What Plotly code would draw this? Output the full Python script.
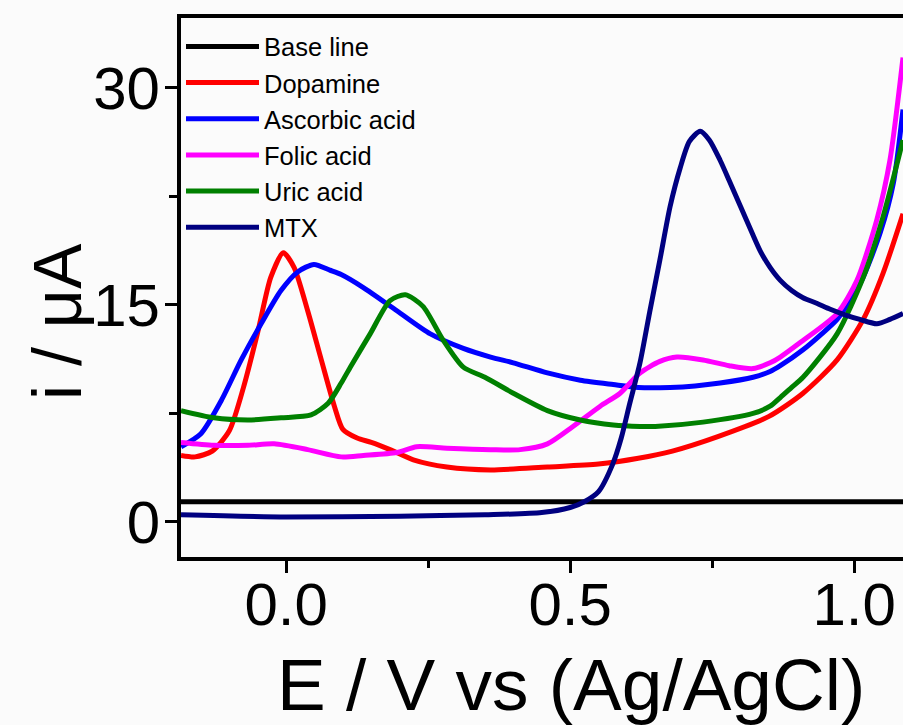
import plotly.graph_objects as go

# ---- data ----
base_E = [-0.185, 1.086]
base_i = [1.4, 1.4]

dopa_E = [-0.185, -0.16, -0.13, -0.10, -0.075, -0.05, -0.027, -0.005, 0.014, 0.038, 0.062, 0.085, 0.10,
          0.125, 0.15, 0.183, 0.224, 0.283, 0.36, 0.46, 0.55, 0.62, 0.68, 0.76, 0.85, 0.91, 0.97, 1.016,
          1.051, 1.086]
dopa_i = [4.6, 4.5, 4.9, 6.3, 9.3, 13.1, 16.9, 18.6, 17.6, 14.6, 11.2, 8.0, 6.4,
          5.8, 5.5, 5.0, 4.3, 3.8, 3.6, 3.8, 4.0, 4.4, 4.9, 5.9, 7.3, 8.9, 11.2, 14.0,
          17.2, 21.3]

asc_E = [-0.185, -0.15, -0.114, -0.079, -0.044, -0.009, 0.021, 0.049, 0.077, 0.097, 0.136, 0.195, 0.254,
         0.312, 0.36, 0.40, 0.46, 0.518, 0.576, 0.62, 0.676, 0.72, 0.764, 0.822, 0.852, 0.87, 0.91, 0.94,
         0.97, 1.011, 1.046, 1.069, 1.086]
asc_i = [5.2, 6.1, 8.4, 11.2, 13.7, 16.0, 17.3, 17.8, 17.4, 17.1, 16.2, 14.6, 13.0,
         12.0, 11.4, 11.0, 10.3, 9.8, 9.5, 9.3, 9.3, 9.4, 9.6, 10.0, 10.4, 10.8, 11.9, 12.9,
         14.0, 16.5, 20.0, 23.4, 28.5]

fol_E = [-0.185, -0.127, -0.067, -0.021, 0.038, 0.097, 0.136, 0.195, 0.23, 0.283, 0.36, 0.412, 0.46,
         0.505, 0.553, 0.588, 0.623, 0.658, 0.688, 0.734, 0.78, 0.822, 0.852, 0.87, 0.905, 0.97, 1.005,
         1.04, 1.063, 1.086]
fol_i = [5.5, 5.3, 5.3, 5.4, 5.0, 4.5, 4.6, 4.8, 5.2, 5.1, 5.0, 5.0, 5.4,
         6.6, 8.0, 8.9, 10.3, 11.1, 11.4, 11.2, 10.8, 10.6, 11.0, 11.4, 12.4, 14.4, 16.7,
         20.9, 25.0, 32.1]

uric_E = [-0.185, -0.127, -0.067, -0.009, 0.044, 0.074, 0.097, 0.113, 0.148, 0.183, 0.21, 0.241, 0.276,
          0.312, 0.35, 0.40, 0.46, 0.518, 0.576, 0.623, 0.65, 0.734, 0.822, 0.852, 0.87, 0.89, 0.91,
          0.97, 1.016, 1.051, 1.086]
uric_i = [7.7, 7.2, 7.05, 7.2, 7.4, 8.2, 9.6, 10.7, 13.0, 15.3, 15.7, 14.9, 12.6,
          10.7, 10.0, 8.9, 7.7, 7.05, 6.7, 6.6, 6.6, 6.9, 7.5, 8.0, 8.6, 9.3, 10.0,
          13.0, 16.9, 21.1, 26.4]

mtx_E = [-0.185, 0.0, 0.2, 0.35, 0.45, 0.5, 0.525, 0.55, 0.575, 0.59, 0.605, 0.623, 0.64, 0.658,
         0.676, 0.694, 0.71, 0.729, 0.745, 0.764, 0.78, 0.80, 0.82, 0.835, 0.852, 0.87, 0.89, 0.91,
         0.935, 0.958, 0.985, 1.01, 1.04, 1.063, 1.086]
mtx_i = [0.5, 0.35, 0.4, 0.5, 0.65, 1.0, 1.4, 2.1, 4.0, 5.8, 8.2, 11.0, 14.5, 18.1,
         21.8, 24.5, 26.3, 27.0, 26.4, 25.0, 23.6, 21.8, 20.0, 18.7, 17.6, 16.7, 16.0, 15.5,
         15.1, 14.7, 14.3, 14.0, 13.7, 14.0, 14.4]

series = [
    ("Base line", base_E, base_i, "#000000"),
    ("Dopamine", dopa_E, dopa_i, "#ff0000"),
    ("Ascorbic acid", asc_E, asc_i, "#0000ff"),
    ("Folic acid", fol_E, fol_i, "#ff00ff"),
    ("Uric acid", uric_E, uric_i, "#008000"),
    ("MTX", mtx_E, mtx_i, "#000080"),
]

FONT = "Arial, 'Liberation Sans', Helvetica, sans-serif"

fig = go.Figure()
for name, xs, ys, col in series:
    fig.add_trace(go.Scatter(x=xs, y=ys, name=name, mode="lines",
                             line=dict(color=col, width=5, shape="spline", smoothing=0.7)))

axis_common = dict(
    showgrid=False, zeroline=False, showline=True, linecolor="black", linewidth=4,
    ticks="outside", ticklen=12, tickwidth=3, tickcolor="black",
    tickfont=dict(family=FONT, size=60, color="black"),
)

fig.update_xaxes(range=[-0.185, 1.086], tick0=0, dtick=0.5, tickformat=".1f", mirror=True,
                 ticklabelstandoff=-20,
                 minor=dict(ticks="outside", dtick=0.25, tick0=0, ticklen=7, tickwidth=3, tickcolor="black"),
                 **axis_common)
fig.update_yaxes(range=[-2.42, 34.83], tick0=0, dtick=15, mirror=False,
                 ticklabelstandoff=-7,
                 minor=dict(ticks="outside", dtick=7.5, tick0=0, ticklen=8, tickwidth=3, tickcolor="black"),
                 **axis_common)

fig.update_layout(
    width=903, height=725,
    margin=dict(l=181, r=0, t=18, b=168),
    paper_bgcolor="#fbfbfb", plot_bgcolor="#fbfbfb",
    showlegend=True,
    legend=dict(x=0.0, y=0.99, xanchor="left", yanchor="top", bgcolor="rgba(0,0,0,0)",
                font=dict(family=FONT, size=25.5, color="black"), itemwidth=73, tracegroupgap=0),
    annotations=[
        dict(text="E / V vs (Ag/AgCl)", xref="paper", yref="paper", x=0.540, y=-0.236,
             xanchor="center", yanchor="middle", showarrow=False,
             font=dict(family=FONT, size=73, color="black")),
        dict(text="i / μA", xref="paper", yref="paper", x=-0.1717, y=0.436, textangle=-90,
             xanchor="center", yanchor="middle", showarrow=False,
             font=dict(family=FONT, size=68, color="black")),
    ],
)

fig.write_html("out.html")
